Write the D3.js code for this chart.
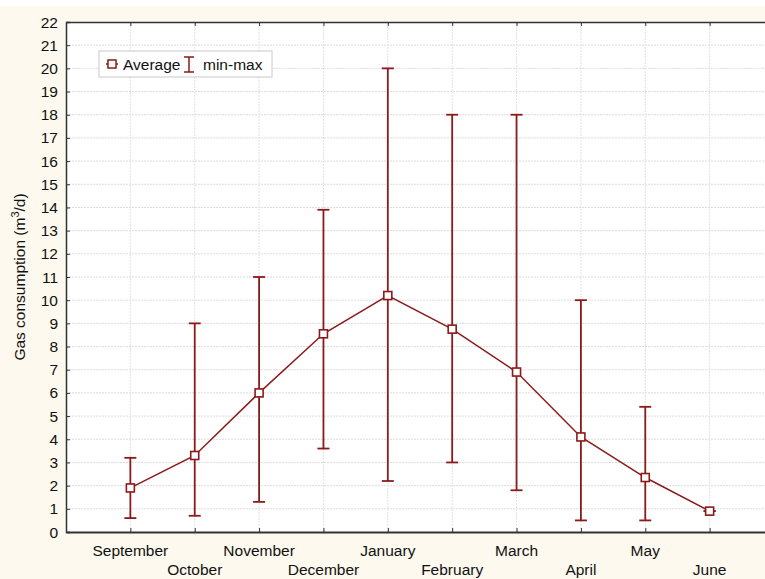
<!DOCTYPE html>
<html>
<head>
<meta charset="utf-8">
<script src="https://cdn.jsdelivr.net/npm/d3@7"></script>
<style>
  html, body { margin: 0; padding: 0; background: #ffffff; }
  svg { display: block; font-family: "Liberation Sans", Arial, sans-serif; }
</style>
</head>
<body>
<div id="chart"></div>
<script>
const width = 765;
const height = 579;
const margin = { top: 22, right: -9, bottom: 47, left: 66 };

const months = ["September", "October", "November", "December", "January", "February", "March", "April", "May", "June"];
const average = [1.9, 3.3, 6.0, 8.55, 10.2, 8.75, 6.9, 4.1, 2.35, 0.9];
const minValues = [0.6, 0.7, 1.3, 3.6, 2.2, 3.0, 1.8, 0.5, 0.5, 0.9];
const maxValues = [3.2, 9.0, 11.0, 13.9, 20.0, 18.0, 18.0, 10.0, 5.4, 0.9];
const yTicks = d3.range(0, 23);

const red = "#8b1a1a";

const data = months.map((m, i) => ({
  month: m,
  index: i,
  avg: average[i],
  min: minValues[i],
  max: maxValues[i],
}));

const svg = d3.select("#chart")
  .append("svg")
  .attr("width", width)
  .attr("height", height);

svg.append("rect")
  .attr("x", 0).attr("y", 6)
  .attr("width", width).attr("height", height - 6)
  .attr("fill", "#fdf9ee");

const x = d3.scaleLinear()
  .domain([-1, 10])
  .range([margin.left, width - margin.right]);

const y = d3.scaleLinear()
  .domain([0, 22])
  .range([height - margin.bottom, margin.top]);

// plot area
svg.append("rect")
  .attr("x", x(-1)).attr("y", y(22))
  .attr("width", x(10) - x(-1)).attr("height", y(0) - y(22))
  .attr("fill", "#ffffff");

// grid
svg.append("g")
  .selectAll("line")
  .data(yTicks.slice(1, -1))
  .join("line")
  .attr("x1", x(-1)).attr("x2", x(10))
  .attr("y1", (d) => y(d)).attr("y2", (d) => y(d))
  .attr("stroke", "#dcdcdc")
  .attr("stroke-width", 1)
  .attr("stroke-dasharray", "2,1");

svg.append("g")
  .selectAll("line")
  .data(data)
  .join("line")
  .attr("x1", (d) => x(d.index)).attr("x2", (d) => x(d.index))
  .attr("y1", y(0)).attr("y2", y(22))
  .attr("stroke", "#e2e2e2")
  .attr("stroke-width", 1)
  .attr("stroke-dasharray", "2,1");

// axes
const yAxis = svg.append("g")
  .attr("transform", `translate(${x(-1)},0)`)
  .call(d3.axisRight(y).tickValues(yTicks).tickSize(4).tickFormat(""));
yAxis.select(".domain").attr("stroke", "#333").attr("stroke-width", 1.5);
yAxis.selectAll(".tick line").attr("stroke", "#333");

svg.append("g")
  .selectAll("text")
  .data(yTicks)
  .join("text")
  .attr("x", x(-1) - 8)
  .attr("y", (d) => y(d))
  .attr("dy", "0.36em")
  .attr("text-anchor", "end")
  .attr("font-size", 15.5)
  .attr("fill", "#111")
  .text((d) => d);

const xAxis = svg.append("g")
  .attr("transform", `translate(0,${y(0)})`)
  .call(d3.axisTop(x).tickValues(d3.range(0, 10)).tickSize(4).tickFormat("").tickSizeOuter(0));
xAxis.select(".domain").attr("stroke", "#333").attr("stroke-width", 2);
xAxis.selectAll(".tick line").attr("stroke", "#333");

const topAxis = svg.append("g")
  .attr("transform", `translate(0,${y(22)})`)
  .call(d3.axisBottom(x).tickValues(d3.range(0, 10)).tickSize(4).tickFormat("").tickSizeOuter(0));
topAxis.select(".domain").attr("stroke", "#333").attr("stroke-width", 1.5);
topAxis.selectAll(".tick line").attr("stroke", "#333");

svg.append("g")
  .selectAll("text")
  .data(data)
  .join("text")
  .attr("x", (d) => x(d.index))
  .attr("y", (d) => (d.index % 2 === 0 ? 556 : 575))
  .attr("text-anchor", "middle")
  .attr("font-size", 15.5)
  .attr("fill", "#111")
  .text((d) => d.month);

// y title
const title = svg.append("text")
  .attr("transform", `translate(25,${(y(0) + y(22)) / 2}) rotate(-90)`)
  .attr("text-anchor", "middle")
  .attr("font-size", 15.5)
  .attr("fill", "#111");
title.append("tspan").text("Gas consumption (m");
title.append("tspan").attr("font-size", 11).attr("dy", -6).text("3");
title.append("tspan").attr("dy", 6).text("/d)");

// error bars
const cap = 6;
const bars = svg.append("g")
  .selectAll("g")
  .data(data)
  .join("g")
  .attr("stroke", red)
  .attr("stroke-width", 1.8)
  .attr("fill", "none");

bars.append("line")
  .attr("x1", (d) => x(d.index)).attr("x2", (d) => x(d.index))
  .attr("y1", (d) => y(d.min)).attr("y2", (d) => y(d.max));
bars.append("line")
  .attr("x1", (d) => x(d.index) - cap).attr("x2", (d) => x(d.index) + cap)
  .attr("y1", (d) => y(d.min)).attr("y2", (d) => y(d.min));
bars.append("line")
  .attr("x1", (d) => x(d.index) - cap).attr("x2", (d) => x(d.index) + cap)
  .attr("y1", (d) => y(d.max)).attr("y2", (d) => y(d.max));

// average line
const line = d3.line()
  .x((d) => x(d.index))
  .y((d) => y(d.avg));

svg.append("path")
  .datum(data)
  .attr("fill", "none")
  .attr("stroke", red)
  .attr("stroke-width", 1.5)
  .attr("d", line);

svg.append("g")
  .selectAll("rect")
  .data(data)
  .join("rect")
  .attr("x", (d) => x(d.index) - 4)
  .attr("y", (d) => y(d.avg) - 4)
  .attr("width", 8)
  .attr("height", 8)
  .attr("fill", "#fff")
  .attr("stroke", red)
  .attr("stroke-width", 1.6);

// legend
const legend = svg.append("g").attr("transform", "translate(99,51)");
legend.append("rect")
  .attr("width", 173).attr("height", 26)
  .attr("fill", "#fff")
  .attr("stroke", "#c8c8c8");
legend.append("line")
  .attr("x1", 7).attr("x2", 19).attr("y1", 13).attr("y2", 13)
  .attr("stroke", red).attr("stroke-width", 1.5);
legend.append("rect")
  .attr("x", 9).attr("y", 9).attr("width", 8).attr("height", 8)
  .attr("fill", "#fff").attr("stroke", red).attr("stroke-width", 1.5);
legend.append("text")
  .attr("x", 24).attr("y", 18.5)
  .attr("font-size", 15.5).attr("fill", "#111")
  .text("Average");
const icon = legend.append("g").attr("stroke", red).attr("stroke-width", 1.5);
icon.append("line").attr("x1", 90).attr("x2", 90).attr("y1", 6).attr("y2", 21);
icon.append("line").attr("x1", 85).attr("x2", 95).attr("y1", 6).attr("y2", 6);
icon.append("line").attr("x1", 85).attr("x2", 95).attr("y1", 21).attr("y2", 21);
legend.append("text")
  .attr("x", 104).attr("y", 18.5)
  .attr("font-size", 15.5).attr("fill", "#111")
  .text("min-max");
</script>
</body>
</html>
